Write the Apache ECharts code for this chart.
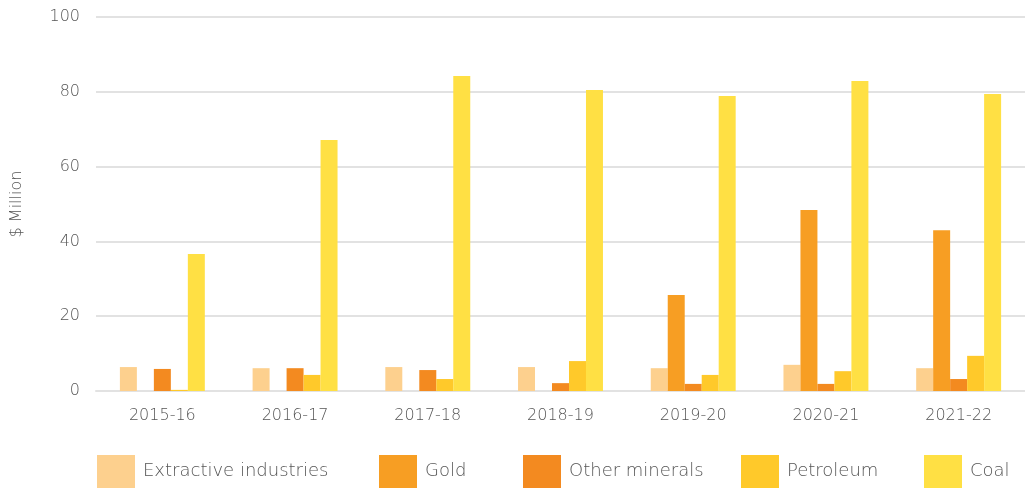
<!DOCTYPE html>
<html>
<head>
<meta charset="utf-8">
<script src="https://cdn.jsdelivr.net/npm/echarts@6/dist/echarts.min.js"></script>
<style>
  html, body { margin: 0; padding: 0; background: #fff; }
  #chart { width: 1025px; height: 488px; }
</style>
</head>
<body>
<div id="chart"></div>
<script>
// categories and values
const years = ['2015-16', '2016-17', '2017-18', '2018-19', '2019-20', '2020-21', '2021-22'];
const extractive = [6.4, 6.1, 6.4, 6.4, 6.1, 7.0, 6.1];
const gold = [0, 0, 0, 0, 25.7, 48.4, 43.0];
const otherMinerals = [5.9, 6.1, 5.6, 2.1, 1.9, 1.9, 3.2];
const petroleum = [0.3, 4.3, 3.2, 8.0, 4.3, 5.3, 9.4];
const coal = [36.6, 67.1, 84.2, 80.5, 78.9, 82.9, 79.4];

const names = ['Extractive industries', 'Gold', 'Other minerals', 'Petroleum', 'Coal'];
const colors = ['#FDD08E', '#F79E23', '#F38A20', '#FFC92A', '#FFE044'];
const legendLeft = [97, 379, 523, 741, 924];

const font = '"DejaVu Sans", sans-serif';
const weight = 200;
const textColor = '#555555';

const chart = echarts.init(document.getElementById('chart'));

const seriesData = [extractive, gold, otherMinerals, petroleum, coal];

const option = {
    animation: false,
    color: colors,
    grid: { left: 96, right: 0, top: 17, bottom: 97, outerBoundsMode: 'none' },
    legend: names.map(function (n, i) {
        return {
            data: [n],
            left: legendLeft[i],
            top: 455,
            padding: 0,
            itemWidth: 38,
            itemHeight: 33,
            itemGap: 0,
            icon: 'rect',
            textStyle: { fontFamily: font, fontWeight: weight, fontSize: 18, color: textColor, padding: [7, 0, 0, 3] },
            selectedMode: false
        };
    }),
    xAxis: {
        type: 'category',
        data: years,
        axisTick: { show: false },
        axisLine: { lineStyle: { color: '#e2e2e2', width: 2 } },
        axisLabel: { fontFamily: font, fontWeight: weight, fontSize: 16, color: textColor, margin: 17 }
    },
    yAxis: {
        type: 'value',
        min: 0,
        max: 100,
        interval: 20,
        name: '$ Million',
        nameLocation: 'middle',
        nameGap: 71,
        nameTextStyle: { fontFamily: font, fontWeight: weight, fontSize: 16, color: textColor },
        axisLabel: { fontFamily: font, fontWeight: weight, fontSize: 16, color: textColor, margin: 16 },
        splitLine: { lineStyle: { color: '#e2e2e2', width: 2 } }
    },
    series: names.map(function (n, i) {
        return {
            name: n,
            type: 'bar',
            data: seriesData[i],
            barGap: '0%',
            barCategoryGap: '36%'
        };
    })
};

chart.setOption(option);
</script>
</body>
</html>
